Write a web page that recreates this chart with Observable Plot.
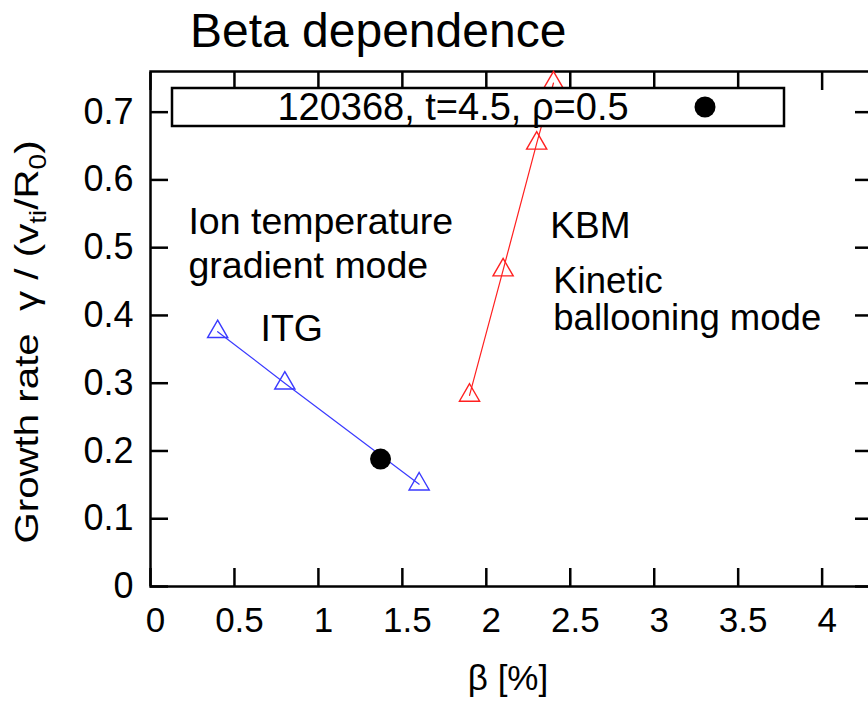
<!DOCTYPE html>
<html>
<head>
<meta charset="utf-8">
<script src="https://cdn.jsdelivr.net/npm/d3@7"></script>
<script src="https://cdn.jsdelivr.net/npm/@observablehq/plot@0.6"></script>
<style>
  html, body { margin: 0; padding: 0; background: #fff; overflow: hidden; }
  #wrap { position: relative; width: 868px; height: 701px; overflow: hidden; }
  #wrap svg { display: block; max-width: none !important; width: 876px; height: 701px; }
</style>
</head>
<body>
<div id="wrap"></div>
<script>
// ---- data ----
const itgBeta  = [0.4, 0.8, 1.6];
const itgGamma = [0.376, 0.300, 0.151];
const kbmBeta  = [1.9, 2.1, 2.3, 2.4];
const kbmGamma = [0.282, 0.467, 0.654, 0.743];
const expBeta  = [1.37];
const expGamma = [0.188];

const xTicks = [0, 0.5, 1, 1.5, 2, 2.5, 3, 3.5, 4];
const yTicks = [0, 0.1, 0.2, 0.3, 0.4, 0.5, 0.6, 0.7];

const annText = ["Ion temperature", "gradient mode", "ITG", "KBM", "Kinetic", "ballooning mode"];
const annX    = [0.226, 0.226, 0.655, 2.381, 2.399, 2.399];
const annY    = [0.538, 0.473, 0.380, 0.532, 0.451, 0.396];
const annSize = [37.5, 37.5, 37.5, 37, 36.5, 36.5];

const titleText = "Beta dependence";
const keyText = "120368, t=4.5, \u03C1=0.5";
const xLabel = "\u03B2 [%]";

// ---- tables ----
const itg = itgBeta.map((b, i) => ({beta: b, gamma: itgGamma[i]}));
const kbm = kbmBeta.map((b, i) => ({beta: b, gamma: kbmGamma[i]}));
const exp = expBeta.map((b, i) => ({beta: b, gamma: expGamma[i]}));
const ann = annText.map((t, i) => ({text: t, x: annX[i], y: annY[i], size: annSize[i]}));

const FONT = "'Liberation Sans', Arial, Helvetica, sans-serif";
const BLUE = "#3a3aff";
const RED = "#ff2020";
const noLabel = () => "";

const plot = Plot.plot({
  width: 876,
  height: 701,
  marginLeft: 150,
  marginRight: 4,
  marginTop: 71,
  marginBottom: 115,
  x: {domain: [0, 4.3]},
  y: {domain: [0, 0.76]},
  style: {fontFamily: FONT, fontSize: "34px", color: "#000", background: "#fff", overflow: "visible"},
  marks: [
    // inward ticks on all four sides
    Plot.axisX(xTicks, {anchor: "bottom", tickSize: 18, dy: -18, tickFormat: noLabel, label: null, strokeWidth: 2.5}),
    Plot.axisX(xTicks, {anchor: "top", tickSize: 18, dy: 18, tickFormat: noLabel, label: null, strokeWidth: 2.5}),
    Plot.axisY(yTicks, {anchor: "left", tickSize: 18, dx: 18, tickFormat: noLabel, label: null, strokeWidth: 2.5}),
    Plot.axisY(yTicks, {anchor: "right", tickSize: 18, dx: -18, tickFormat: noLabel, label: null, strokeWidth: 2.5}),
    // tick labels
    Plot.axisX(xTicks, {anchor: "bottom", tickSize: 0, tickPadding: 21, dx: 5, label: null, tickFormat: d => String(d), fontSize: 35}),
    Plot.axisY(yTicks, {anchor: "left", tickSize: 0, tickPadding: 17, label: null, tickFormat: d => String(d), fontSize: 36}),
    Plot.frame({stroke: "#000", strokeWidth: 2.5}),
    // series
    Plot.line(itg, {x: "beta", y: "gamma", stroke: BLUE, strokeWidth: 1.2}),
    Plot.dot(itg, {x: "beta", y: "gamma", symbol: "triangle", r: 7.5, stroke: BLUE, strokeWidth: 1.4, fill: "none"}),
    Plot.line(kbm, {x: "beta", y: "gamma", stroke: RED, strokeWidth: 1.2}),
    Plot.dot(kbm, {x: "beta", y: "gamma", symbol: "triangle", r: 7.5, stroke: RED, strokeWidth: 1.4, fill: "none"}),
    Plot.dot(exp, {x: "beta", y: "gamma", r: 10.5, fill: "#000", stroke: "none"}),
    // annotations
    ...ann.map(a => Plot.text([a], {x: "x", y: "y", text: "text", textAnchor: "start", fontSize: a.size, fill: "#000"}))
  ]
});

document.getElementById("wrap").appendChild(plot);

// ---- title, axis labels, key (as real text) ----
const svg = d3.select(plot);

svg.append("text")
  .attr("x", 190).attr("y", 47)
  .attr("text-anchor", "start")
  .attr("font-family", FONT).attr("font-size", 48).attr("fill", "#000")
  .text(titleText);

svg.append("text")
  .attr("x", 508).attr("y", 690)
  .attr("text-anchor", "middle")
  .attr("font-family", FONT).attr("font-size", 35).attr("fill", "#000")
  .text(xLabel);

const yl = svg.append("text")
  .attr("transform", "translate(38,342) rotate(-90) scale(1.22,1)")
  .attr("text-anchor", "middle")
  .attr("font-family", FONT).attr("font-size", 33).attr("fill", "#000")
  .style("white-space", "pre");
yl.append("tspan").text("Growth rate  \u03B3 / (v");
yl.append("tspan").attr("font-size", 23).attr("dy", 8).text("ti");
yl.append("tspan").attr("dy", -8).text("/R");
yl.append("tspan").attr("font-size", 23).attr("dy", 8).text("0");
yl.append("tspan").attr("dy", -8).text(")");

const key = svg.append("g");
key.append("rect")
  .attr("x", 172).attr("y", 88).attr("width", 612).attr("height", 38)
  .attr("fill", "#fff").attr("stroke", "#000").attr("stroke-width", 2.5);
key.append("text")
  .attr("x", 453).attr("y", 119.5)
  .attr("text-anchor", "middle")
  .attr("font-family", FONT).attr("font-size", 38).attr("fill", "#000")
  .text(keyText);
key.append("circle")
  .attr("cx", 705).attr("cy", 107).attr("r", 10.5).attr("fill", "#000");
</script>
</body>
</html>
